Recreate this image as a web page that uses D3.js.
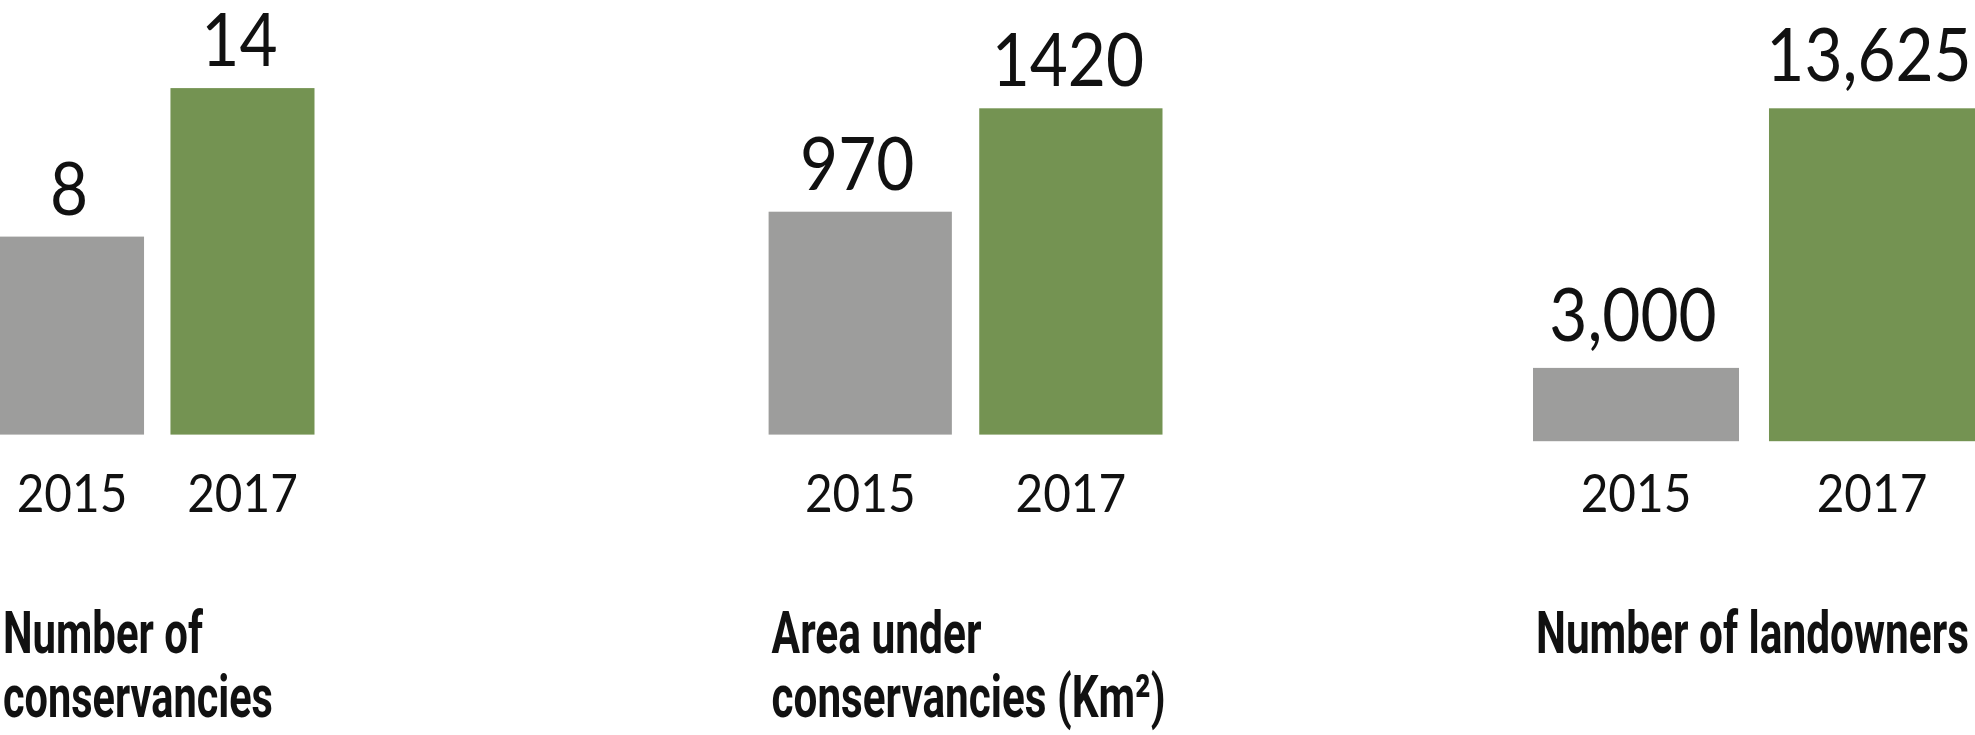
<!DOCTYPE html>
<html>
<head>
<meta charset="utf-8">
<script src="https://cdn.jsdelivr.net/npm/d3@7"></script>
<style>
  body { margin: 0; background: #fff; }
  .value, .year { font-family: Lato, "Noto Sans", sans-serif; font-weight: 400; fill: #111; }
  .title { font-family: Roboto, "DejaVu Sans Condensed", sans-serif; font-weight: 700; fill: #111; }
</style>
</head>
<body>
<svg id="chart"></svg>
<script>
// chart data
const years = ["2015", "2017"];
const conservancies = [8, 14];
const areaKm2 = [970, 1420];
const landowners = [3000, 13625];
const titleConservancies = ["Number of", "conservancies"];
const titleArea = ["Area under", "conservancies (Km²)"];
const titleLandowners = ["Number of landowners"];

const width = 1975;
const height = 735;
const colors = ["#9d9d9c", "#749352"]; // 2015 grey, 2017 green
const squeeze = 0.9; // labels are a bit narrower than Lato

// layout of each small chart (band range, baseline, top of tallest bar)
const panels = [
    { values: conservancies, title: titleConservancies, fmt: d3.format("d"),
      x0: 0, x1: 314.5, pad: 0.155, base: 434.6, top: 88.1, gap: 22,
      titleWidths: [200, 270] },
    { values: areaKm2, title: titleArea, fmt: d3.format("d"),
      x0: 768.6, x1: 1162.5, pad: 0.13, base: 434.6, top: 108.3, gap: 22,
      titleWidths: [210, 394] },
    { values: landowners, title: titleLandowners, fmt: d3.format(","),
      x0: 1533, x1: 1975, pad: 0.127, base: 441.2, top: 108.3, gap: 27,
      titleWidths: [433] }
];

const svg = d3.select("#chart")
    .attr("width", width)
    .attr("height", height);

panels.forEach(p => {
    const x = d3.scaleBand()
        .domain(years)
        .range([p.x0, p.x1])
        .paddingInner(p.pad)
        .paddingOuter(0);

    const y = d3.scaleLinear()
        .domain([0, d3.max(p.values)])
        .range([p.base, p.top]);

    const rows = years.map((yr, i) => ({ year: yr, value: p.values[i], i: i }));
    const g = svg.append("g");

    // bars
    g.selectAll("rect")
        .data(rows)
        .enter().append("rect")
        .attr("x", d => x(d.year))
        .attr("y", d => y(d.value))
        .attr("width", x.bandwidth())
        .attr("height", d => y(0) - y(d.value))
        .attr("fill", d => colors[d.i]);

    // value labels above bars
    g.selectAll(".value")
        .data(rows)
        .enter().append("text")
        .attr("class", "value")
        .attr("transform", d => "translate(" + (x(d.year) + x.bandwidth() / 2 - 3) + "," + (y(d.value) - p.gap) + ") scale(" + squeeze + ",1)")
        .attr("text-anchor", "middle")
        .style("font-size", "73px")
        .text(d => p.fmt(d.value));

    // year labels under bars
    g.selectAll(".year")
        .data(rows)
        .enter().append("text")
        .attr("class", "year")
        .attr("transform", d => "translate(" + (x(d.year) + x.bandwidth() / 2) + ",512) scale(" + squeeze + ",1)")
        .attr("text-anchor", "middle")
        .style("font-size", "53px")
        .text(d => d.year);

    // title, one or two lines -- condensed by squeezing to the wanted width
    g.selectAll(".title")
        .data(p.title)
        .enter().append("text")
        .attr("class", "title")
        .style("font-size", "60px")
        .text(d => d)
        .attr("transform", function(d, i) {
            const natural = this.getComputedTextLength();
            const k = p.titleWidths[i] / natural;
            return "translate(" + (p.x0 + 3) + "," + (652.6 + i * 64.2) + ") scale(" + k + ",1)";
        });
});
</script>
</body>
</html>
